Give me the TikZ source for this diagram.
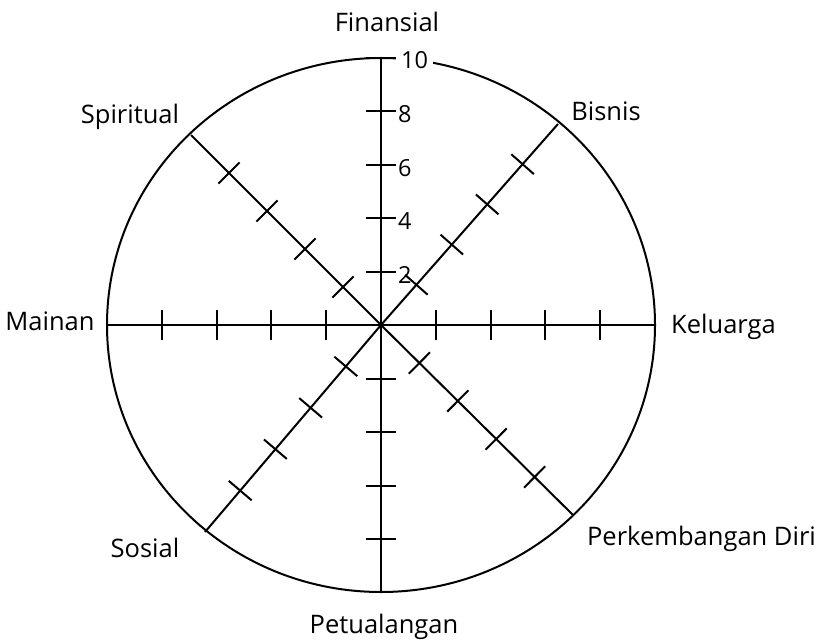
\documentclass[tikz,border=0pt]{standalone}
\usepackage{fontspec}
\setmainfont{Open Sans}
\usetikzlibrary{calc}
\begin{document}
\begin{tikzpicture}[x=1pt,y=-1pt,
  spoke/.style={line width=2pt},
  tickmark/.style={line width=2pt},
  lbl/.style={font=\fontsize{25.5}{29}\selectfont, inner sep=0pt, anchor=base},
  num/.style={font=\fontsize{23.5}{26}\selectfont, anchor=west, inner xsep=2pt, inner ysep=1pt}]
\useasboundingbox (0,0) rectangle (821,644);
\coordinate (O) at (381,325);
\coordinate (N) at (381,58);
\coordinate (S) at (381,593);
\coordinate (E) at (655,325);
\coordinate (W) at (107,325);
\coordinate (NE) at (558,124);
\coordinate (NW) at (191,135);
\coordinate (SE) at (573,515);
\coordinate (SW) at (205,532);
\draw[spoke] (O) ellipse [x radius=274pt, y radius=267pt];
\foreach \e in {N,S,E,W,NE,NW,SE,SW}{
  \draw[spoke] (O) -- (\e);
  \foreach \f in {0.2,0.4,0.6,0.8}
    \draw[tickmark] ($(O)!\f!(\e)!15pt!90:(\e)$) -- ($(O)!\f!(\e)!15pt!-90:(\e)$);
}
\draw[tickmark] ($(N)!15pt!90:(O)$) -- ($(N)!15pt!-90:(O)$);
\node[num] (n2) at ($(O)!0.2!(N)+(15,3)$) {2};
\node[num] (n4) at ($(O)!0.4!(N)+(15,3)$) {4};
\node[num] (n6) at ($(O)!0.6!(N)+(15,3)$) {6};
\node[num] (n8) at ($(O)!0.8!(N)+(15,3)$) {8};
\node[num, fill=white, inner xsep=5pt] (n10) at ($(N)+(15,2)$) {10};
\node[lbl] (fin) at (387,32) {Finansial};
\node[lbl] (bis) at (606,121) {Bisnis};
\node[lbl] (kel) at (723.5,333) {Keluarga};
\node[lbl] (per) at (701.5,545) {Perkembangan Diri};
\node[lbl] (pet) at (384,633) {Petualangan};
\node[lbl] (sos) at (145,557) {Sosial};
\node[lbl] (mai) at (50,330) {Mainan};
\node[lbl] (spi) at (130,124) {Spiritual};
\end{tikzpicture}
\end{document}
